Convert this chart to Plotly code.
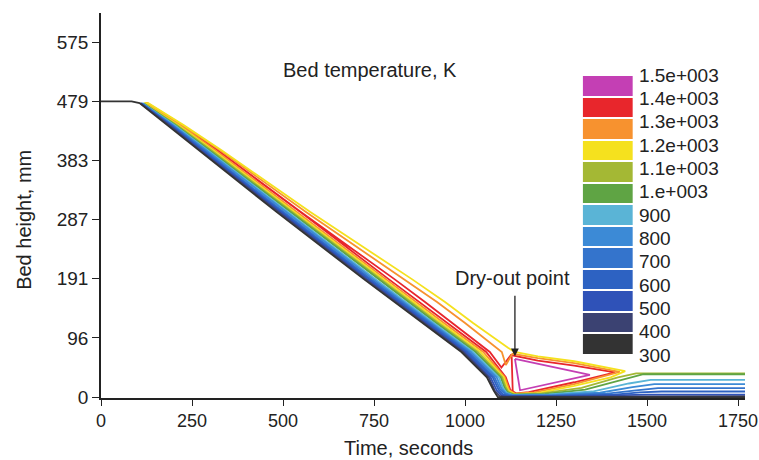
import plotly.graph_objects as go

# ---------------- data ----------------
# isotherms in (time [s], bed height [mm]); None breaks a line
iso_300_t = [0, 84, 106, 268, 482, 722, 882, 990, 1060, 1079, 1090, 1769]
iso_300_h = [479, 479, 476, 400, 300, 191, 120, 73, 32, 10, 0, 0]

iso_400_t = [107, 188, 272, 487, 727, 887, 995, 1065, 1082, 1095, 1108, 1300, 1500, 1769]
iso_400_h = [476, 440, 400, 300, 191, 120, 73, 32, 10, 2, 0.7, 0.7, 1.5, 1.5]

iso_500_t = [109, 191, 276, 492, 732, 892, 1000, 1070, 1087, 1100, 1115, 1270, 1430, 1500, 1769]
iso_500_h = [476, 440, 400, 300, 191, 120, 73, 32, 11, 3, 1.2, 1.2, 2.5, 4, 4]

iso_600_t = [110, 193, 279, 496, 737, 897, 1005, 1076, 1092, 1105, 1120, 1260, 1410, 1480, 1540, 1769]
iso_600_h = [476, 440, 400, 300, 191, 120, 73, 32, 12, 4, 1.8, 2, 4, 7.5, 9, 9]

iso_700_t = [111, 196, 283, 501, 742, 902, 1010, 1081, 1096, 1110, 1125, 1250, 1390, 1470, 1530, 1769]
iso_700_h = [476, 440, 400, 300, 191, 120, 73, 32, 13, 5, 2.5, 2.8, 5.5, 11, 14.5, 14.5]

iso_800_t = [112, 199, 288, 507, 748, 908, 1016, 1087, 1100, 1112, 1128, 1240, 1370, 1460, 1520, 1769]
iso_800_h = [476, 440, 400, 300, 191, 120, 73, 32, 14, 6, 3, 3.5, 7, 16, 21, 21]

iso_900_t = [114, 203, 292, 512, 754, 914, 1022, 1093, 1104, 1114, 1130, 1230, 1350, 1450, 1510, 1769]
iso_900_h = [476, 440, 400, 300, 191, 120, 73, 32, 15, 7, 3.5, 4.2, 9, 22, 28, 28]

iso_1000_t = [116, 206, 297, 519, 761, 921, 1029, 1098, 1108, 1116, 1132, 1220, 1330, 1430, 1490, 1769]
iso_1000_h = [476, 440, 400, 300, 191, 120, 73, 32, 16, 8, 4, 5, 12, 28, 37, 37]

iso_1100_t = [117, 210, 302, 525, 767, 927, 1035, 1102, 1111, 1118, 1134, 1210, 1320, 1420, 1470, 1769]
iso_1100_h = [476, 440, 400, 300, 191, 120, 73, 32, 17, 9, 4.5, 6, 15, 32, 38.5, 38.5]

iso_1200_t = [119, 214, 307, 531, 774, 934, 1042, 1106, 1114, 1120, 1136, 1200, 1300, 1400, 1440,
              1300, 1200, 1136, 1118, 1022, 945, 854, 574, 330, 228, 130, 119]
iso_1200_h = [476, 440, 400, 300, 191, 120, 73, 32, 18, 10, 5, 6.5, 18, 32, 42,
              58, 66, 73, 80, 120, 154, 191, 300, 400, 440, 476, 476]

iso_1300_t = [121, 218, 313, 539, 782, 942, 1050, 1109, 1117, 1122, 1138, 1190, 1300, 1380, 1425,
              1300, 1200, 1130, 1112, 1101, 1000, 923, 832, 562, 326, 225, 128, 121]
iso_1300_h = [476, 440, 400, 300, 191, 120, 73, 32, 19, 11, 5.5, 7.5, 21, 33, 41,
              55, 63, 70, 52, 73, 120, 154, 191, 300, 400, 440, 476, 476]

iso_1400_t = [123, 222, 319, 547, 790, 950, 1058, 1112, 1119, 1124, 1140, 1175, 1300, 1412,
              1300, 1200, 1126, 1100, 1068, 966, 890, 806, 548, 320, 221, 126, 123,
              None, 1128, 1131]
iso_1400_h = [476, 440, 400, 300, 191, 120, 73, 32, 20, 12, 6, 8, 24, 40,
              51, 59, 68, 48, 73, 120, 154, 191, 300, 400, 440, 476, 476,
              None, 66, 9]

iso_1500_t = [1137, 1343, 1151, 1137]
iso_1500_h = [62, 36, 11, 62]

levels = [300, 400, 500, 600, 700, 800, 900, 1000, 1100, 1200, 1300, 1400, 1500]
level_labels = ["300", "400", "500", "600", "700", "800", "900",
                "1.e+003", "1.1e+003", "1.2e+003", "1.3e+003", "1.4e+003", "1.5e+003"]
level_colors = ["#333333", "#3b4272", "#2f52b8", "#2d62c2", "#3474cc", "#3c8ad6",
                "#5ab4d6", "#5fa444", "#a4b834", "#f5e11e", "#f7922f", "#e8262c", "#c43fb4"]

x_ticks = [0, 250, 500, 750, 1000, 1250, 1500, 1750]
y_tick_vals = [0, 95.8, 191.6, 287.4, 383.2, 479, 574.8]
y_tick_text = ["0", "96", "191", "287", "383", "479", "575"]

# ---------------- figure ----------------
iso = {
    300: (iso_300_t, iso_300_h), 400: (iso_400_t, iso_400_h), 500: (iso_500_t, iso_500_h),
    600: (iso_600_t, iso_600_h), 700: (iso_700_t, iso_700_h), 800: (iso_800_t, iso_800_h),
    900: (iso_900_t, iso_900_h), 1000: (iso_1000_t, iso_1000_h), 1100: (iso_1100_t, iso_1100_h),
    1200: (iso_1200_t, iso_1200_h), 1300: (iso_1300_t, iso_1300_h), 1400: (iso_1400_t, iso_1400_h),
    1500: (iso_1500_t, iso_1500_h),
}

FONT = "Liberation Sans, Arial, Helvetica, sans-serif"
fig = go.Figure()

for lev in reversed(levels):
    t, h = iso[lev]
    col = level_colors[levels.index(lev)]
    fig.add_trace(go.Scatter(x=t, y=h, mode="lines", line=dict(color=col, width=1.8),
                             showlegend=False, hoverinfo="skip", cliponaxis=False))

# colour key
n = len(levels)
cs = []
for i, c in enumerate(level_colors):
    cs.append([i / n, c])
    cs.append([(i + 1) / n, c])
fig.add_trace(go.Heatmap(z=[[i] for i in range(n)], x=[0], y=list(range(n)),
                         colorscale=cs, zmin=-0.5, zmax=n - 0.5, showscale=False,
                         ygap=2, xaxis="x2", yaxis="y2", hoverinfo="skip"))

fig.update_layout(
    width=759, height=460,
    margin=dict(l=101, r=14, t=13, b=62, autoexpand=False),
    paper_bgcolor="white", plot_bgcolor="white",
    font=dict(family=FONT, size=17, color="#222222"),
    xaxis=dict(range=[0, 1769], tickvals=x_ticks, ticks="outside", ticklen=6,
               tickcolor="#222", showline=True, linecolor="#222", linewidth=1.5,
               showgrid=False, zeroline=False, tickfont=dict(size=18), automargin=False),
    yaxis=dict(range=[-1.5, 622], tickvals=y_tick_vals, ticktext=y_tick_text,
               ticks="outside", ticklen=7, tickcolor="#222", showline=True,
               linecolor="#222", linewidth=1.5, showgrid=False, zeroline=False,
               tickfont=dict(size=19), automargin=False),
    xaxis2=dict(domain=[0.748, 0.826], anchor="y2", visible=False, range=[-0.5, 0.5],
                automargin=False),
    yaxis2=dict(domain=[0.112, 0.839], anchor="x2", side="right", range=[-0.5, n - 0.5],
                tickvals=[-0.5 + k * n / (n - 1) for k in range(n)], ticktext=level_labels,
                ticks="", showgrid=False, zeroline=False, showline=False,
                tickfont=dict(size=19), ticklabelstandoff=5, automargin=False),
    annotations=[
        dict(x=0.477, y=-0.13, xref="paper", yref="paper", text="Time, seconds",
             showarrow=False, font=dict(size=20), yanchor="middle"),
        dict(x=-0.12, y=0.462, xref="paper", yref="paper", text="Bed height, mm",
             showarrow=False, font=dict(size=20), textangle=-90, xanchor="center",
             yanchor="middle"),
        dict(x=738, y=530, xref="x", yref="y", text="Bed temperature, K", showarrow=False,
             font=dict(size=20)),
        dict(x=1130, y=193, xref="x", yref="y", text="Dry-out point", showarrow=False,
             font=dict(size=20)),
        dict(x=1137, y=66, xref="x", yref="y", ax=0, ay=-62, text="", showarrow=True,
             arrowhead=2, arrowsize=1.2, arrowwidth=1.3, arrowcolor="#222"),
    ],
)

fig.write_html("out.html")
